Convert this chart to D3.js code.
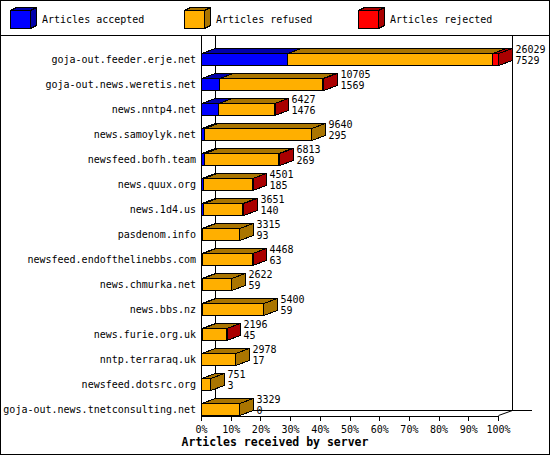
<!DOCTYPE html>
<html>
<head>
<meta charset="utf-8">
<script src="https://cdn.jsdelivr.net/npm/d3@7"></script>
<style>
  body { margin: 0; background: #fff; }
  svg { display: block; }
  text { font-family: "DejaVu Sans Mono", monospace; font-size: 10px; fill: #000; }
</style>
</head>
<body>
<div id="chart"></div>
<script>
// articles received by server, innreport style 3d stacked bars

var servers = ["goja-out.feeder.erje.net", "goja-out.news.weretis.net", "news.nntp4.net",
  "news.samoylyk.net", "newsfeed.bofh.team", "news.quux.org", "news.1d4.us", "pasdenom.info",
  "newsfeed.endofthelinebbs.com", "news.chmurka.net", "news.bbs.nz", "news.furie.org.uk",
  "nntp.terraraq.uk", "newsfeed.dotsrc.org", "goja-out.news.tnetconsulting.net"];
var offered  = [26029, 10705, 6427, 9640, 6813, 4501, 3651, 3315, 4468, 2622, 5400, 2196, 2978, 751, 3329];
var accepted = [7529, 1569, 1476, 295, 269, 185, 140, 93, 63, 59, 59, 45, 17, 3, 0];
var rejected = [520, 110, 60, 0, 50, 40, 90, 0, 40, 0, 0, 30, 0, 0, 0];

var legendNames = ["Articles accepted", "Articles refused", "Articles rejected"];
var tickValues = [0, 0.1, 0.2, 0.3, 0.4, 0.5, 0.6, 0.7, 0.8, 0.9, 1];

var colors = ["#0000ff", "#ffaf00", "#ff0000"];
var darks  = ["#0000aa", "#aa7500", "#aa0000"];

var W = 550, H = 455;
var dx = 14, dy = 5;   // depth of the 3d bars

var svg = d3.select("#chart").append("svg")
  .attr("width", W)
  .attr("height", H);

var x = d3.scaleLinear().domain([0, d3.max(offered)]).range([201, 498]);
var pct = d3.scaleLinear().domain([0, 1]).range(x.range());
var y = d3.scalePoint().domain(servers).range([59, 408.5]);

var g = svg.append("g").attr("shape-rendering", "crispEdges");

// frame
g.append("rect")
  .attr("x", 0.5).attr("y", 0.5)
  .attr("width", W - 1).attr("height", H - 1)
  .attr("fill", "none").attr("stroke", "#000");
g.append("line")
  .attr("x1", 0).attr("x2", W).attr("y1", 35.5).attr("y2", 35.5)
  .attr("stroke", "#000");

// legend cubes
var legend = g.selectAll(".legend").data(legendNames)
  .enter().append("g")
    .attr("class", "legend")
    .attr("transform", function (d, i) { return "translate(" + (10 + 174 * i) + ",10)"; });

legend.append("path")
  .attr("d", "M0.5,0.5 L" + (6.5) + ",-2.5 L26.5,-2.5 L20.5,0.5 Z")
  .attr("fill", function (d, i) { return darks[i]; })
  .attr("stroke", "#000");
legend.append("path")
  .attr("d", "M20.5,0.5 L26.5,-2.5 L26.5,15.5 L20.5,18.5 Z")
  .attr("fill", function (d, i) { return darks[i]; })
  .attr("stroke", "#000");
legend.append("rect")
  .attr("x", 0.5).attr("y", 0.5)
  .attr("width", 20).attr("height", 18)
  .attr("fill", function (d, i) { return colors[i]; })
  .attr("stroke", "#000");
legend.append("text")
  .attr("x", 32).attr("y", 13)
  .text(function (d) { return d; });

// back wall and floor
var x0 = x(0), x1 = x.range()[1];
var floorY = 415;
g.append("line")
  .attr("x1", x0 + dx + 0.5).attr("x2", x0 + dx + 0.5)
  .attr("y1", 36).attr("y2", floorY - dy)
  .attr("stroke", "#000");
g.append("line")
  .attr("x1", x1 + dx + 0.5).attr("x2", x1 + dx + 0.5)
  .attr("y1", 36).attr("y2", floorY - dy)
  .attr("stroke", "#000");
g.append("line")
  .attr("x1", x0 + dx).attr("x2", 532)
  .attr("y1", floorY - dy + 0.5).attr("y2", floorY - dy + 0.5)
  .attr("stroke", "#000");
g.append("line")
  .attr("x1", x0 + 0.5).attr("x2", x0 + 0.5)
  .attr("y1", 36).attr("y2", floorY)
  .attr("stroke", "#000");
svg.append("line")
  .attr("x1", x1 + 0.5).attr("y1", floorY + 0.5)
  .attr("x2", x1 + dx + 0.5).attr("y2", floorY - dy + 0.5)
  .attr("stroke", "#000");

// x axis
var axis = d3.axisBottom(pct)
  .tickValues(tickValues)
  .tickFormat(d3.format(".0%"))
  .tickSize(5)
  .tickSizeOuter(0);

var ax = g.append("g")
  .attr("transform", "translate(0," + (floorY + 0.5) + ")")
  .call(axis);
ax.select(".domain").attr("stroke", "#000");
ax.selectAll(".tick line").attr("stroke", "#000");
ax.selectAll(".tick text")
  .attr("font-family", "DejaVu Sans Mono")
  .attr("font-size", 10)
  .attr("dy", null)
  .attr("y", 17)
  .attr("fill", "#000");

svg.append("text")
  .attr("x", 275).attr("y", 446)
  .attr("text-anchor", "middle")
  .style("font-weight", "bold")
  .style("font-size", "11.5px")
  .text("Articles received by server");

// bars
var rows = servers.map(function (name, i) {
  var segs = [
    { a: 0, b: accepted[i], c: 0 },
    { a: accepted[i], b: offered[i] - rejected[i], c: 1 },
    { a: offered[i] - rejected[i], b: offered[i], c: 2 }
  ].filter(function (s) { return s.b > s.a; });
  return { name: name, segs: segs, offered: offered[i], accepted: accepted[i] };
});

var bars = g.selectAll(".bar").data(rows)
  .enter().append("g")
    .attr("class", "bar");

bars.each(function (d) {
  var sel = d3.select(this);
  var top = Math.round(y(d.name) - 6) + 0.5;
  var bot = top + 12;
  var right = Math.round(x(d.offered)) + 0.5;

  // top faces
  sel.selectAll(".topface").data(d.segs)
    .enter().append("path")
      .attr("class", "topface")
      .attr("d", function (s) {
        var a = Math.round(x(s.a)) + 0.5, b = Math.round(x(s.b)) + 0.5;
        return "M" + a + "," + top + "L" + (a + dx) + "," + (top - dy) +
          "L" + (b + dx) + "," + (top - dy) + "L" + b + "," + top + "Z";
      })
      .attr("fill", function (s) { return darks[s.c]; })
      .attr("stroke", "#000");

  // side face, coloured like the last segment
  var last = d.segs[d.segs.length - 1];
  sel.append("path")
    .attr("d", "M" + right + "," + top + "L" + (right + dx) + "," + (top - dy) +
      "L" + (right + dx) + "," + (bot - dy) + "L" + right + "," + bot + "Z")
    .attr("fill", darks[last.c])
    .attr("stroke", "#000");

  // front faces
  sel.selectAll(".front").data(d.segs)
    .enter().append("rect")
      .attr("class", "front")
      .attr("x", function (s) { return Math.round(x(s.a)) + 0.5; })
      .attr("y", top)
      .attr("width", function (s) { return Math.max(1, Math.round(x(s.b)) - Math.round(x(s.a))); })
      .attr("height", bot - top)
      .attr("fill", function (s) { return colors[s.c]; })
      .attr("stroke", "#000");

  // value labels
  sel.append("text")
    .attr("x", right + dx + 3)
    .attr("y", y(d.name) - 6)
    .text(d.offered);
  sel.append("text")
    .attr("x", right + dx + 3)
    .attr("y", y(d.name) + 5)
    .text(d.accepted);
});

// server names
svg.selectAll(".name").data(servers)
  .enter().append("text")
    .attr("class", "name")
    .attr("x", 196)
    .attr("y", function (d) { return y(d) + 4; })
    .attr("text-anchor", "end")
    .text(function (d) { return d; });
</script>
</body>
</html>
